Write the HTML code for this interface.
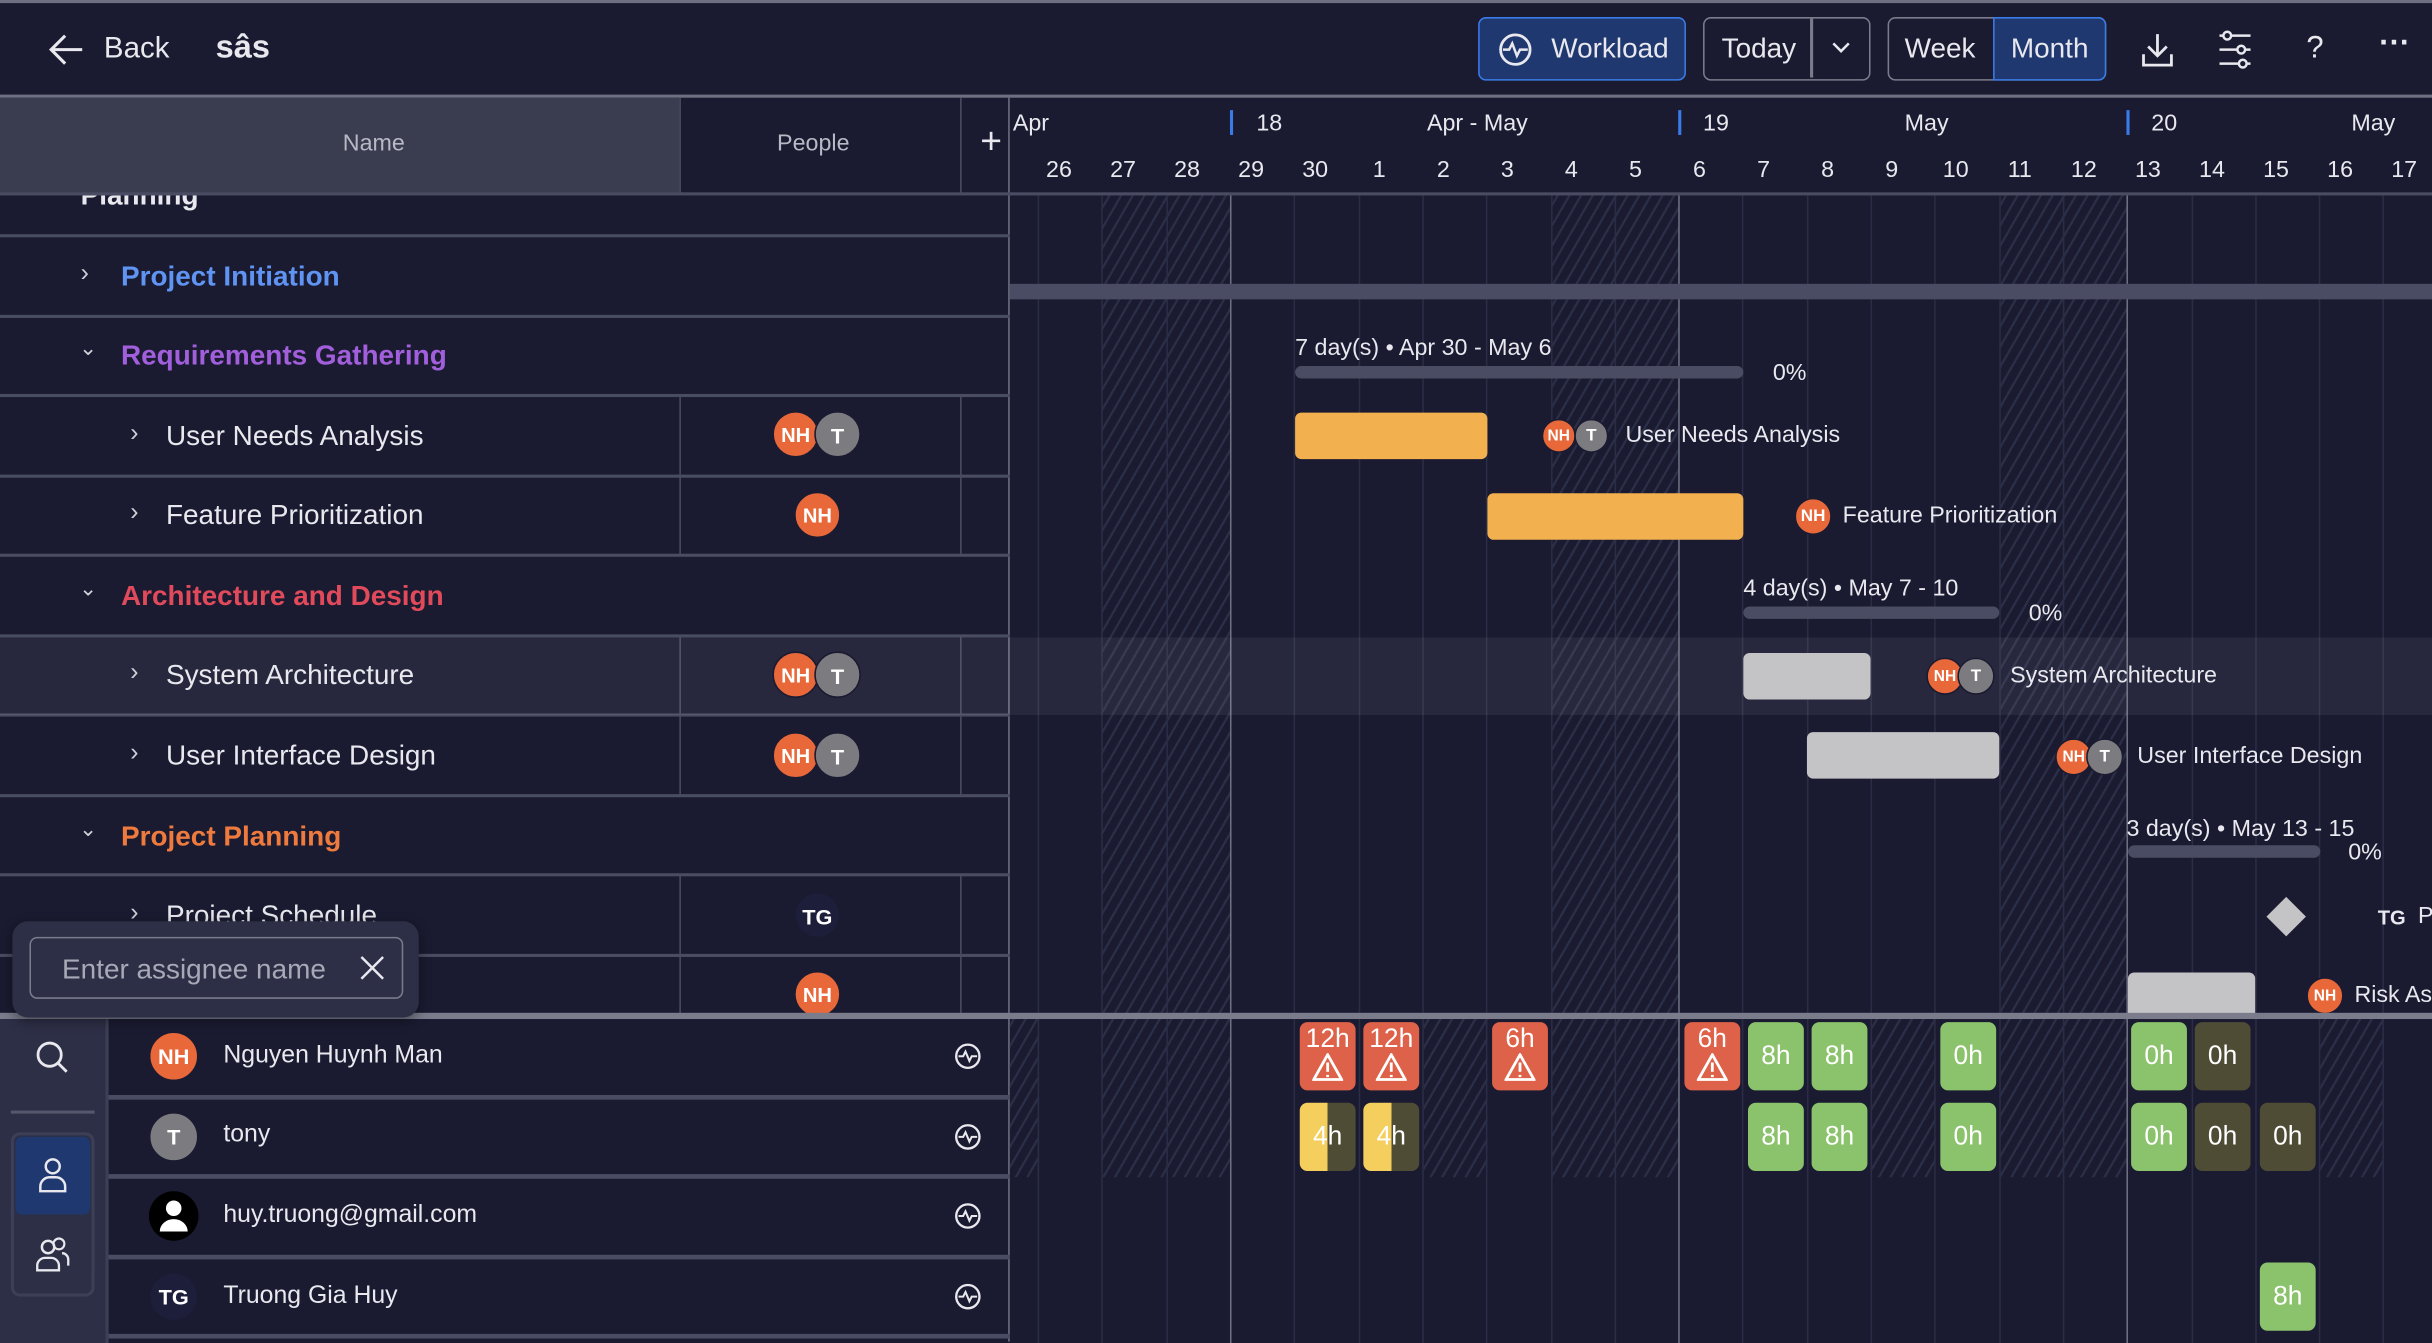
<!DOCTYPE html>
<html><head><meta charset="utf-8">
<style>
*{box-sizing:border-box;margin:0;padding:0}
html,body{width:2432px;height:1342px;overflow:hidden;background:#1a1b31}
#w{position:absolute;left:0;top:0;width:1568px;height:866px;transform:scale(1.55102);transform-origin:0 0;background:#1a1b31;font-family:"Liberation Sans",sans-serif;color:#e8e8ee;overflow:hidden}
.a{position:absolute}
.t{position:absolute;white-space:nowrap}
.hl{position:absolute;height:2px;background:#4a4c63}
.vl{position:absolute;width:1px}
.av{position:absolute;width:30px;height:30px;border-radius:50%;font-size:14px;font-weight:bold;color:#fff;text-align:center;line-height:30px;border:1px solid #1a1b31}
.nh{background:#e9683a}.tt{background:#7c7c80}
.cell{position:absolute;width:36px;height:44px;border-radius:5px;color:#fff;font-size:17px;text-align:center}
.red{background:#de6149}.grn{background:#8bc26c}.olv{background:#4f4c35}
.btn{position:absolute;border:1.5px solid #7a7c8c;border-radius:5px;font-size:18px;color:#e8e8ee;text-align:center;line-height:38px}
.hatch{position:absolute;background:repeating-linear-gradient(-60deg,transparent 0 5px,#2b2e47 5px 6.5px)}
.chev{position:absolute;font-size:16px;color:#d0d0d8}
</style></head><body><div id="w">
<div class="a" style="left:0;top:0;width:1568px;height:2px;background:#6e7082"></div>
<svg class="a" style="left:31px;top:21px" width="24" height="22" viewBox="0 0 24 22"><path d="M22 11H3M11 2 2 11l9 9" stroke="#e8e8ee" stroke-width="2" fill="none"/></svg>
<div class="t" style="left:67px;top:21px;font-size:19px">Back</div>
<div class="t" style="left:139px;top:19px;font-size:21px;font-weight:bold">sâs</div>
<div class="btn" style="left:953px;top:11px;width:134px;height:41px;background:#1f3870;border-color:#3b7be8"><svg class="a" style="left:12px;top:9px" width="22" height="22" viewBox="0 0 22 22"><circle cx="11" cy="11" r="9.5" stroke="#e8e8ee" stroke-width="1.8" fill="none"/><path d="M3 11h4l2-4 3 8 2-4h5" stroke="#e8e8ee" stroke-width="1.6" fill="none"/></svg><span style="margin-left:36px">Workload</span></div>
<div class="btn" style="left:1098px;top:11px;width:108px;height:41px"><span class="a" style="left:11px;top:0">Today</span><div class="a" style="left:68px;top:0;width:1.5px;height:38px;background:#7a7c8c"></div><svg class="a" style="left:81px;top:14px" width="14" height="10"><path d="M2 2l5 5 5-5" stroke="#e8e8ee" stroke-width="1.6" fill="none"/></svg></div>
<div class="btn" style="left:1217px;top:11px;width:141px;height:41px"><span class="a" style="left:10px;top:0">Week</span></div>
<div class="btn" style="left:1285px;top:11px;width:73px;height:41px;background:#1f3870;border-color:#3b7be8;border-radius:0 5px 5px 0">Month</div>
<svg class="a" style="left:1379px;top:20px" width="24" height="24" viewBox="0 0 24 24"><path d="M12 2v14M6 10l6 6 6-6M3 15v7h18v-7" stroke="#e8e8ee" stroke-width="1.8" fill="none"/></svg>
<svg class="a" style="left:1429px;top:19px" width="24" height="26" viewBox="0 0 24 26"><g stroke="#e8e8ee" stroke-width="1.6" fill="none"><path d="M2 4h20M2 13h20M2 22h20"/><circle cx="7" cy="4" r="2.5" fill="#1a1b31"/><circle cx="16" cy="13" r="2.5" fill="#1a1b31"/><circle cx="17" cy="22" r="2.5" fill="#1a1b31"/></g></svg>
<div class="t" style="left:1487px;top:20px;font-size:20px">?</div>
<div class="t" style="left:1534px;top:17px;font-size:20px;font-weight:bold">···</div>
<div class="a" style="left:0;top:61px;width:1568px;height:2px;background:#6e7082"></div>
<div class="a" style="left:0;top:63px;width:438px;height:62px;background:#3a3c50"></div>
<div class="t" style="left:221px;top:84px;font-size:15px;color:#b8b9c4">Name</div>
<div class="vl" style="left:438px;top:63px;height:62px;background:#4a4c63"></div>
<div class="t" style="left:501px;top:84px;font-size:15px;color:#b8b9c4">People</div>
<div class="vl" style="left:619px;top:63px;height:62px;background:#4a4c63"></div>
<div class="vl" style="left:438px;top:255px;height:103px;background:#4a4c63"></div>
<div class="vl" style="left:619px;top:255px;height:103px;background:#4a4c63"></div>
<div class="vl" style="left:438px;top:410px;height:103px;background:#4a4c63"></div>
<div class="vl" style="left:619px;top:410px;height:103px;background:#4a4c63"></div>
<div class="vl" style="left:438px;top:564px;height:91px;background:#4a4c63"></div>
<div class="vl" style="left:619px;top:564px;height:91px;background:#4a4c63"></div>
<div class="t" style="left:632px;top:78px;font-size:24px;font-weight:300">+</div>
<div class="vl" style="left:650px;top:63px;height:802px;background:#6e7082"></div>
<div id="chart"></div>
<div class="t" style="left:653px;top:71px;font-size:15px">Apr</div>
<div class="vl" style="left:793px;top:71px;height:16px;width:2px;background:#3b7be8"></div><div class="t" style="left:810px;top:71px;font-size:15px">18</div>
<div class="t" style="left:920px;top:71px;font-size:15px">Apr - May</div>
<div class="vl" style="left:1082px;top:71px;height:16px;width:2px;background:#3b7be8"></div><div class="t" style="left:1098px;top:71px;font-size:15px">19</div>
<div class="t" style="left:1228px;top:71px;font-size:15px">May</div>
<div class="vl" style="left:1371px;top:71px;height:16px;width:2px;background:#3b7be8"></div><div class="t" style="left:1387px;top:71px;font-size:15px">20</div>
<div class="t" style="left:1516px;top:71px;font-size:15px">May</div>
<div id="days"></div>
<div class="hl" style="left:0;top:151px;width:651px"></div>
<div class="hl" style="left:0;top:203px;width:651px"></div>
<div class="hl" style="left:0;top:254px;width:651px"></div>
<div class="hl" style="left:0;top:306px;width:651px"></div>
<div class="hl" style="left:0;top:357px;width:651px"></div>
<div class="hl" style="left:0;top:409px;width:651px"></div>
<div class="hl" style="left:0;top:460px;width:651px"></div>
<div class="hl" style="left:0;top:512px;width:651px"></div>
<div class="hl" style="left:0;top:563px;width:651px"></div>
<div class="hl" style="left:0;top:615px;width:651px"></div>
<div class="a" style="left:0;top:411px;width:1568px;height:50px;background:rgba(255,255,255,0.06)"></div>
<div class="a" style="left:0;top:126px;width:640px;height:25px;overflow:hidden">
<div class="t" style="left:25px;top:-14px;font-size:14px">⌄</div>
<div class="t" style="left:52px;top:-10px;font-size:18px;font-weight:bold">Planning</div>
</div>
<div class="a" style="left:0;top:124px;width:1568px;height:2px;background:#4a4c63"></div>
<div class="chev" style="left:52px;top:168px">›</div><div class="t" style="left:78px;top:168px;font-size:18px;font-weight:bold;color:#5f94f2">Project Initiation</div>
<div class="chev" style="left:51px;top:216px;font-size:14px">⌄</div><div class="t" style="left:78px;top:219px;font-size:18px;font-weight:bold;color:#a25fdc">Requirements Gathering</div>
<div class="chev" style="left:84px;top:271px">›</div><div class="t" style="left:107px;top:271px;font-size:18px">User Needs Analysis</div>
<div class="chev" style="left:84px;top:322px">›</div><div class="t" style="left:107px;top:322px;font-size:18px">Feature Prioritization</div>
<div class="chev" style="left:51px;top:371px;font-size:14px">⌄</div><div class="t" style="left:78px;top:374px;font-size:18px;font-weight:bold;color:#e04a5a">Architecture and Design</div>
<div class="chev" style="left:84px;top:425px">›</div><div class="t" style="left:107px;top:425px;font-size:18px">System Architecture</div>
<div class="chev" style="left:84px;top:477px">›</div><div class="t" style="left:107px;top:477px;font-size:18px">User Interface Design</div>
<div class="chev" style="left:51px;top:526px;font-size:14px">⌄</div><div class="t" style="left:78px;top:529px;font-size:18px;font-weight:bold;color:#ef7a3e">Project Planning</div>
<div class="chev" style="left:84px;top:580px">›</div><div class="t" style="left:107px;top:580px;font-size:18px">Project Schedule</div>
<div class="av nh" style="left:498px;top:265px;font-size:13px">NH</div><div class="av tt" style="left:525px;top:265px">T</div>
<div class="av nh" style="left:512px;top:317px;font-size:13px">NH</div>
<div class="av nh" style="left:498px;top:420px;font-size:13px">NH</div><div class="av tt" style="left:525px;top:420px">T</div>
<div class="av nh" style="left:498px;top:472px;font-size:13px">NH</div><div class="av tt" style="left:525px;top:472px">T</div>
<div class="av" style="left:512px;top:575px;background:#1c1e3a;font-size:14px">TG</div>
<div class="av nh" style="left:512px;top:626px;font-size:13px">NH</div>
<div class="a" style="left:651px;top:183px;width:917px;height:10px;background:#4a4c63"></div>
<div class="t" style="left:835px;top:216px;font-size:15px">7 day(s) • Apr 30 - May 6</div>
<div class="a" style="left:835px;top:236px;width:289px;height:8px;border-radius:4px;background:#4a4c63"></div>
<div class="t" style="left:1143px;top:232px;font-size:15px">0%</div>
<div class="a" style="left:835px;top:266px;width:124px;height:30px;border-radius:4px;background:#f2b04e"></div>
<div class="av nh" style="left:994px;top:270px;width:22px;height:22px;line-height:21px;font-size:10px">NH</div><div class="av tt" style="left:1015px;top:270px;width:22px;height:22px;line-height:21px;font-size:11px">T</div>
<div class="t" style="left:1048px;top:272px;font-size:15px">User Needs Analysis</div>
<div class="a" style="left:959px;top:318px;width:165px;height:30px;border-radius:4px;background:#f2b04e"></div>
<div class="av nh" style="left:1157px;top:321px;width:24px;height:24px;line-height:23px;font-size:11px">NH</div>
<div class="t" style="left:1188px;top:324px;font-size:15px">Feature Prioritization</div>
<div class="t" style="left:1124px;top:371px;font-size:15px">4 day(s) • May 7 - 10</div>
<div class="a" style="left:1124px;top:391px;width:165px;height:8px;border-radius:4px;background:#4a4c63"></div>
<div class="t" style="left:1308px;top:387px;font-size:15px">0%</div>
<div class="a" style="left:1124px;top:421px;width:82px;height:30px;border-radius:4px;background:#c4c4c6"></div>
<div class="av nh" style="left:1242px;top:424px;width:24px;height:24px;line-height:23px;font-size:10px">NH</div><div class="av tt" style="left:1262px;top:424px;width:24px;height:24px;line-height:23px;font-size:11px">T</div>
<div class="t" style="left:1296px;top:427px;font-size:15px">System Architecture</div>
<div class="a" style="left:1165px;top:472px;width:124px;height:30px;border-radius:4px;background:#c4c4c6"></div>
<div class="av nh" style="left:1325px;top:476px;width:24px;height:24px;line-height:23px;font-size:10px">NH</div><div class="av tt" style="left:1345px;top:476px;width:24px;height:24px;line-height:23px;font-size:11px">T</div>
<div class="t" style="left:1378px;top:479px;font-size:15px">User Interface Design</div>
<div class="t" style="left:1371px;top:526px;font-size:15px">3 day(s) • May 13 - 15</div>
<div class="a" style="left:1372px;top:545px;width:124px;height:8px;border-radius:4px;background:#4a4c63"></div>
<div class="t" style="left:1514px;top:541px;font-size:15px">0%</div>
<div class="a" style="left:1465px;top:582px;width:18px;height:18px;background:#c4c4c6;transform:rotate(45deg)"></div>
<div class="t" style="left:1533px;top:584px;font-size:13px;font-weight:bold">TG</div><div class="t" style="left:1559px;top:582px;font-size:15px">P</div>
<div class="a" style="left:1372px;top:627px;width:82px;height:30px;border-radius:4px;background:#c4c4c6"></div>
<div class="av nh" style="left:1487px;top:630px;width:24px;height:24px;line-height:23px;font-size:10px">NH</div>
<div class="t" style="left:1518px;top:633px;font-size:15px">Risk As</div>
<div class="a" style="left:0;top:653px;width:1568px;height:4px;background:#7a7c8c"></div>
<div class="a" style="left:0;top:657px;width:68px;height:209px;background:#2d2f47"></div>
<svg class="a" style="left:22px;top:670px" width="24" height="24" viewBox="0 0 24 24"><circle cx="10" cy="10" r="7.5" stroke="#e8e8ee" stroke-width="1.8" fill="none"/><path d="M15.5 15.5 21 21" stroke="#e8e8ee" stroke-width="1.8"/></svg>
<div class="a" style="left:7px;top:716px;width:54px;height:1.5px;background:#55576c"></div>
<div class="a" style="left:7px;top:730px;width:54px;height:106px;border:2px solid #3d3f57;border-radius:6px"></div>
<div class="a" style="left:10px;top:733px;width:48px;height:50px;border-radius:4px;background:#1f3870"></div>
<svg class="a" style="left:23px;top:746px" width="22" height="24" viewBox="0 0 22 24"><circle cx="11" cy="6" r="4.5" stroke="#e8e8ee" stroke-width="1.6" fill="none"/><path d="M3 22v-3a6 6 0 0 1 6-6h4a6 6 0 0 1 6 6v3z" stroke="#e8e8ee" stroke-width="1.6" fill="none"/></svg>
<svg class="a" style="left:22px;top:797px" width="24" height="24" viewBox="0 0 24 24"><circle cx="9" cy="7" r="4" stroke="#e8e8ee" stroke-width="1.6" fill="none"/><circle cx="16" cy="5" r="3.5" stroke="#e8e8ee" stroke-width="1.4" fill="none"/><path d="M2 22v-3a5 5 0 0 1 5-5h4a5 5 0 0 1 5 5v3zM18 11a4 4 0 0 1 4 4v4" stroke="#e8e8ee" stroke-width="1.5" fill="none"/></svg>
<div class="vl" style="left:68px;top:657px;height:209px;width:2px;background:#3d3f57"></div>
<div class="hl" style="left:70px;top:706px;width:581px;height:3px"></div>
<div class="hl" style="left:70px;top:757px;width:581px;height:3px"></div>
<div class="hl" style="left:70px;top:809px;width:581px;height:3px"></div>
<div class="hl" style="left:70px;top:860px;width:581px;height:3px"></div>
<div class="av nh" style="left:96px;top:665px;width:32px;height:32px;line-height:31px;font-size:14px">NH</div>
<div class="t" style="left:144px;top:672px;font-size:16px">Nguyen Huynh Man</div>
<div class="av tt" style="left:96px;top:717px;width:32px;height:32px;line-height:31px">T</div>
<div class="t" style="left:144px;top:723px;font-size:16px">tony</div>
<svg class="a" style="left:96px;top:768px" width="32" height="32" viewBox="0 0 32 32"><circle cx="16" cy="16" r="16" fill="#000"/><circle cx="16" cy="11" r="5" fill="#fff"/><path d="M7 26a9 8 0 0 1 18 0z" fill="#fff"/></svg>
<div class="t" style="left:144px;top:775px;font-size:16px">huy.truong@gmail.com</div>
<div class="av" style="left:96px;top:820px;width:32px;height:32px;line-height:31px;background:#1c1e3a">TG</div>
<div class="t" style="left:144px;top:827px;font-size:16px">Truong Gia Huy</div>
<div id="wi"></div>
<div class="a" style="left:8px;top:594px;width:262px;height:62px;border-radius:10px;background:#2d2f47;box-shadow:0 2px 8px rgba(0,0,0,.4)"></div>
<div class="a" style="left:19px;top:604px;width:241px;height:40px;border:1.5px solid #7a7c8c;border-radius:5px"></div>
<div class="t" style="left:40px;top:615px;font-size:18px;color:#a8a9b6">Enter assignee name</div>
<svg class="a" style="left:231px;top:615px" width="18" height="18"><path d="M2 2l14 14M16 2 2 16" stroke="#e8e8ee" stroke-width="1.6"/></svg>
</div>
<script>
var W=41.3,B=793;
var ch='';
function cx(k){return B+W*k;}
var hatch=[[-2,-1],[5,6],[12,13]];
hatch.forEach(function(h){ch+='<div class="hatch" style="left:'+cx(h[0])+'px;top:126px;width:'+(W*2)+'px;height:527px"></div>';
ch+='<div class="hatch" style="left:'+cx(h[0])+'px;top:657px;width:'+(W*2)+'px;height:102px"></div>';});
ch+='<div class="hatch" style="left:651px;top:657px;width:18px;height:102px"></div>';
ch+='<div class="hatch" style="left:1207px;top:657px;width:41px;height:102px"></div>';
ch+='<div class="hatch" style="left:918px;top:657px;width:41px;height:102px"></div>';
ch+='<div class="hatch" style="left:1496px;top:657px;width:41px;height:102px"></div>';
for(var k=-3;k<19;k++){var x=cx(k);if(x<651||x>1568)continue;var wk=(k%7==0);
ch+='<div class="vl" style="left:'+Math.round(x)+'px;top:126px;height:740px;background:'+(wk?'#6e7082':'#2a2d45')+'"></div>';}
document.getElementById('chart').innerHTML=ch;
var days=[26,27,28,29,30,1,2,3,4,5,6,7,8,9,10,11,12,13,14,15,16,17],d='';
days.forEach(function(n,i){var c=cx(i-3)+W/2-7;d+='<div class="t" style="left:'+(c-12)+'px;width:24px;text-align:center;top:101px;font-size:15px">'+n+'</div>';});
document.getElementById('days').innerHTML=d;
var warn='<svg width="20" height="18" viewBox="0 0 20 18" style="display:block;margin:0 auto"><path d="M10 1 19 17H1z" stroke="#fff" stroke-width="1.8" fill="none"/><path d="M10 6v6M10 14v1.5" stroke="#fff" stroke-width="1.8"/></svg>';
var cells=[[838,659,'red','12h',1],[879,659,'red','12h',1],[962,659,'red','6h',1],[1086,659,'red','6h',1],[1127,659,'grn','8h'],[1168,659,'grn','8h'],[1251,659,'grn','0h'],[1374,659,'grn','0h'],[1415,659,'olv','0h'],
[1127,711,'grn','8h'],[1168,711,'grn','8h'],[1251,711,'grn','0h'],[1374,711,'grn','0h'],[1415,711,'olv','0h'],[1457,711,'olv','0h'],[1457,814,'grn','8h'],[838,711,'y','4h'],[879,711,'y','4h']];
var h='';
cells.forEach(function(c){var st='left:'+c[0]+'px;top:'+c[1]+'px;';
if(c[2]=='y'){h+='<div class="cell" style="'+st+'background:linear-gradient(90deg,#f4cf5e 50%,#4f4c35 50%);line-height:44px">'+c[3]+'</div>';}
else if(c[4]){h+='<div class="cell '+c[2]+'" style="'+st+'padding-top:2px;line-height:18px">'+c[3]+warn+'</div>';}
else h+='<div class="cell '+c[2]+'" style="'+st+'line-height:44px">'+c[3]+'</div>';});
for(var i=0;i<4;i++)h+='<svg class="a" style="left:615px;top:'+(672+i*51.5)+'px" width="18" height="18" viewBox="0 0 18 18"><circle cx="9" cy="9" r="7.5" stroke="#e8e8ee" stroke-width="1.5" fill="none"/><path d="M3 9h3l1.5-3 2.5 6 1.5-3H15" stroke="#e8e8ee" stroke-width="1.3" fill="none"/></svg>';
document.getElementById('wi').innerHTML=h;
</script>
</body></html>
